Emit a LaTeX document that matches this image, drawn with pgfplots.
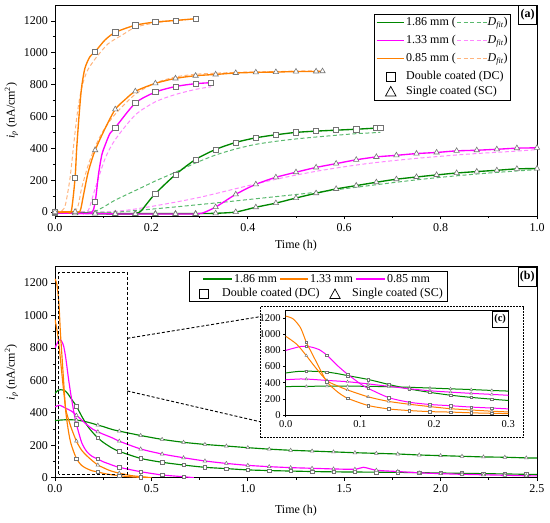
\documentclass[border=0pt]{standalone}
\usepackage{pgfplots}
\pgfplotsset{compat=1.18}
\usepackage{pgfplotstable}
\usepackage{fontspec}
\setmainfont{Liberation Serif}
\definecolor{cGr}{RGB}{0,135,0}
\definecolor{cGrD}{RGB}{90,185,110}
\definecolor{cMa}{RGB}{255,0,255}
\definecolor{cMaD}{RGB}{255,135,255}
\definecolor{cOr}{RGB}{255,128,0}
\definecolor{cOrD}{RGB}{255,180,125}
\definecolor{cMk}{RGB}{115,115,115}
\newcommand\fs{\fontsize{12}{14}\selectfont}
\newcommand\fsi{\fontsize{10.5}{12.5}\selectfont}
\pgfplotsset{
  mainmk/.style={restrict expr to domain={\thisrow{m}}{0.5:1.5}},
  insetmk/.style={restrict expr to domain={\thisrow{m}}{0.5:2.5}},
  base/.style={scale only axis, width=482pt, height=211pt, tick align=outside, tick pos=left,
    axis line style={line width=0.8pt}, major tick length=3.5pt, minor tick length=2pt,
    every tick/.style={black, line width=0.7pt},
    tick label style={font=\fs}, label style={font=\fs},
    /pgf/number format/assume math mode=true, /pgf/number format/1000 sep={}},
  sol/.style={line width=1.35pt, smooth, tension=0.45},
  das/.style={line width=1pt, smooth, tension=0.45, dash pattern=on 4pt off 2.5pt},
  msq/.style={only marks, mark=square*, mark size=2.6pt, mark options={solid, fill=white, draw=cMk, line width=0.6pt}},
  mtr/.style={only marks, mark=triangle*, mark size=3.1pt, mark options={solid, fill=white, draw=cMk, line width=0.6pt}},
  msqb/.style={only marks, mark=square*, mark size=1.7pt, mark options={solid, fill=white, draw=cMk, line width=0.5pt}},
  mtrb/.style={only marks, mark=triangle*, mark size=2.1pt, mark options={solid, fill=white, draw=cMk, line width=0.5pt}},
  msqc/.style={only marks, mark=square*, mark size=1.3pt, mark options={solid, fill=white, draw=cMk, line width=0.4pt}},
  mtrc/.style={only marks, mark=triangle*, mark size=1.6pt, mark options={solid, fill=white, draw=cMk, line width=0.4pt}},
}
% ---------------- panel (a) ----------------
\pgfplotstableread{
t v m
0 -5 1
0.06 -8 0
0.12 -12 0
0.165 -10 0
0.178 5 0
0.19 50 0
0.2083 116 1
0.25 235 1
0.2917 330 1
0.3333 393 1
0.375 437 1
0.4167 466 1
0.4583 485 1
0.5 500 1
0.5417 508 1
0.5833 514 1
0.625 520 1
0.6667 527 1
0.675 528 1
}\aGD
\pgfplotstableread{
t v
0 0
0.07 0
0.0833 5
0.1 30
0.125 75
0.1667 135
0.2083 195
0.25 250
0.2917 308
0.3333 358
0.375 396
0.4167 425
0.4583 444
0.5 459
0.5417 471
0.5833 482
0.625 492
0.675 500
}\aGDf
\pgfplotstableread{
t v m
0 -5 1
0.0417 -6 1
0.0833 -8 1
0.125 -9 1
0.1667 -10 1
0.2083 -10 1
0.25 -10 1
0.2917 -10 1
0.3333 -8 1
0.375 0 1
0.4167 30 1
0.4583 56 1
0.5 88 1
0.5417 118 1
0.5833 145 1
0.625 166 1
0.6667 187 1
0.7083 206 1
0.75 220 1
0.7917 233 1
0.8333 245 1
0.875 254 1
0.9167 262 1
0.9583 271 1
1.0 273 1
}\aGS
\pgfplotstableread{
t v
0 0
0.12 0
0.15 5
0.2 18
0.25 32
0.3 47
0.35 62
0.4 78
0.45 94
0.5 110
0.55 127
0.6 146
0.65 165
0.7 184
0.75 202
0.8 218
0.85 232
0.9 245
0.95 256
1.0 266
}\aGSf
\pgfplotstableread{
t v m
0 -5 1
0.04 -8 0
0.075 -5 0
0.0833 63 1
0.09 231 0
0.097 357 0
0.104 420 0
0.114 493 0
0.125 530 1
0.1667 684 1
0.2083 753 1
0.25 788 1
0.2917 806 1
0.324 812 1
}\aPD
\pgfplotstableread{
t v
0 0
0.055 0
0.069 10
0.0833 147
0.104 336
0.125 455
0.1667 610
0.2083 692
0.25 738
0.2917 770
0.324 787
}\aPDf
\pgfplotstableread{
t v m
0 -5 1
0.0417 -8 1
0.0833 -10 1
0.125 -12 1
0.1667 -12 1
0.2083 -12 1
0.25 -12 1
0.2917 -12 1
0.305 -8 0
0.3333 31 1
0.375 111 1
0.4167 174 1
0.4583 218 1
0.5 250 1
0.5417 280 1
0.5833 304 1
0.625 328 1
0.6667 346 1
0.7083 356 1
0.75 367 1
0.7917 374 1
0.8333 384 1
0.875 388 1
0.9167 394 1
0.9583 401 1
1.0 403 1
}\aPS
\pgfplotstableread{
t v
0 0
0.1 0
0.15 12
0.2 35
0.25 62
0.3 92
0.35 128
0.4 165
0.45 200
0.5 232
0.55 260
0.6 284
0.65 305
0.7 322
0.75 337
0.8 350
0.85 362
0.9 372
0.95 381
1.0 392
}\aPSf
\pgfplotstableread{
t v m
0 0 1
0.025 0 0
0.034 8 0
0.0417 216 1
0.045 399 0
0.05 608 0
0.055 778 0
0.062 902 0
0.0726 976 0
0.0833 1007 1
0.1037 1080 0
0.125 1128 1
0.1667 1173 1
0.2083 1193 1
0.25 1203 1
0.2917 1214 1
}\aOD
\pgfplotstableread{
t v
0 5
0.015 10
0.022 50
0.031 209
0.038 400
0.045 590
0.052 730
0.06 830
0.069 898
0.086 972
0.11 1056
0.138 1109
0.1667 1160
0.2083 1188
0.25 1202
0.2917 1212
}\aODf
\pgfplotstableread{
t v m
0 0 1
0.0417 2 1
0.052 5 0
0.059 105 0
0.069 252 0
0.0833 388 1
0.104 525 0
0.125 645 1
0.145 705 0
0.1667 758 1
0.2083 808 1
0.25 839 1
0.2917 856 1
0.3333 864 1
0.375 873 1
0.4167 877 1
0.4583 879 1
0.5 882 1
0.5417 883 1
0.555 884 1
}\aOS
\pgfplotstableread{
t v
0 0
0.038 0
0.048 40
0.055 147
0.069 296
0.0833 410
0.1 510
0.125 615
0.1667 740
0.2083 810
0.25 848
0.2917 865
0.3333 872
0.4 879
0.5 885
0.555 888
}\aOSf
% ---------------- panel (b) ----------------
\pgfplotstableread{
t v m
0 1225 0
0.01 1190 0
0.02 1080 0
0.0278 900 2
0.035 770 0
0.045 590 0
0.0556 410 2
0.07 285 0
0.0833 208 2
0.1111 118 1
0.1389 75 2
0.1667 55 2
0.1944 42 2
0.2222 36 1
0.25 27 2
0.2778 21 2
0.3 17 0
0.3333 12 1
0.4 5 0
0.4444 2 1
0.5 0 0
}\bOD
\pgfplotstableread{
t v m
0 975 0
0.015 875 0
0.0278 735 2
0.04 590 0
0.0556 425 2
0.07 360 0
0.0833 310 2
0.1111 225 1
0.1389 168 2
0.1667 133 2
0.1944 104 2
0.2222 78 1
0.25 62 2
0.2778 47 2
0.3 38 0
0.3333 28 1
0.4 12 0
0.4444 7 1
0.5 0 0
}\bOS
\pgfplotstableread{
t v m
0 800 0
0.01 825 0
0.02 848 0
0.0278 850 2
0.035 840 0
0.045 810 0
0.0556 740 2
0.07 610 0
0.0833 505 2
0.1 390 0
0.1111 330 1
0.1389 215 2
0.1667 158 2
0.1944 130 2
0.2222 115 1
0.25 98 2
0.2778 86 2
0.3 76 0
0.3333 64 1
0.4444 37 1
0.5556 17 1
0.6667 6 1
0.72 0 0
}\bPD
\pgfplotstableread{
t v m
0 437 0
0.02 446 0
0.0278 445 2
0.045 435 0
0.0556 428 2
0.0833 412 2
0.1111 385 1
0.1389 355 2
0.1667 325 2
0.1944 300 2
0.2222 283 1
0.25 268 2
0.2778 255 2
0.3 244 0
0.3333 225 1
0.4444 177 1
0.5556 146 1
0.6667 123 1
0.7778 103 1
0.8889 88 1
1.0 76 1
1.1111 68 1
1.2222 62 1
1.3333 58 1
1.4444 54 1
1.5556 52 1
1.6 64 0
1.6667 46 1
1.7778 38 1
1.8889 30 1
2.0 25 1
2.1111 21 1
2.2222 18 1
2.3333 15 1
2.4444 12 1
2.5 11 0
}\bPS
\pgfplotstableread{
t v m
0 520 0
0.015 538 0
0.0278 542 2
0.045 540 0
0.0556 532 2
0.07 512 0
0.0833 488 2
0.1111 440 1
0.1389 378 2
0.1667 322 2
0.1944 280 2
0.2222 245 1
0.25 218 2
0.2778 196 2
0.3 180 0
0.3333 162 1
0.4444 119 1
0.5556 95 1
0.6667 78 1
0.7778 64 1
0.8889 56 1
1.0 48 1
1.1111 44 1
1.2222 41 1
1.3333 38 1
1.4444 36 1
1.5556 35 1
1.6667 34 1
1.7778 33 1
1.8889 31 1
2.0 29 1
2.1111 27 1
2.2222 25 1
2.3333 23 1
2.4444 21 1
2.5 20 0
}\bGD
\pgfplotstableread{
t v m
0 352 0
0.0278 355 2
0.0556 357 2
0.0833 357 2
0.1111 355 1
0.1389 350 2
0.1667 343 2
0.1944 334 2
0.2222 324 1
0.25 315 2
0.2778 304 2
0.3 296 0
0.3333 287 1
0.4444 260 1
0.5556 236 1
0.6667 218 1
0.7778 205 1
0.8889 195 1
1.0 185 1
1.1111 176 1
1.2222 169 1
1.3333 164 1
1.4444 159 1
1.5556 154 1
1.6667 150 1
1.7778 146 1
1.8889 140 1
2.0 136 1
2.1111 132 1
2.2222 128 1
2.3333 126 1
2.4444 122 1
2.5 121 0
}\bGS
\begin{document}
\begin{tikzpicture}
\path[use as bounding box] (0pt,0pt) rectangle (550pt,523pt);
% ================= (a) =================
\begin{axis}[base, at={(55pt,307pt)}, anchor=south west,
  xmin=0, xmax=1, ymin=-25, ymax=1300,
  xtick={0,0.2,0.4,0.6,0.8,1.0}, ytick={0,200,...,1200},
  minor x tick num=1, minor y tick num=1,
  xticklabel style={/pgf/number format/.cd, fixed, fixed zerofill, precision=1},
  xlabel={Time (h)},
  ylabel={\textit{i}\textsubscript{\textit{p}} (nA/cm\textsuperscript{2})},
  xlabel style={yshift=-2pt}, ylabel style={yshift=-1pt}]
\addplot[das, cGrD] table[x=t,y=v] \aGDf;
\addplot[das, cGrD] table[x=t,y=v] \aGSf;
\addplot[das, cMaD] table[x=t,y=v] \aPDf;
\addplot[das, cMaD] table[x=t,y=v] \aPSf;
\addplot[das, cOrD] table[x=t,y=v] \aODf;
\addplot[das, cOrD] table[x=t,y=v] \aOSf;
\addplot[sol, cGr] table[x=t,y=v] \aGD;
\addplot[sol, cGr] table[x=t,y=v] \aGS;
\addplot[sol, cMa] table[x=t,y=v] \aPD;
\addplot[sol, cMa] table[x=t,y=v] \aPS;
\addplot[sol, cOr] table[x=t,y=v] \aOD;
\addplot[sol, cOr] table[x=t,y=v] \aOS;
\addplot[msq, mainmk] table[x=t,y=v] \aGD;
\addplot[mtr, mainmk] table[x=t,y=v] \aGS;
\addplot[msq, mainmk] table[x=t,y=v] \aPD;
\addplot[mtr, mainmk] table[x=t,y=v] \aPS;
\addplot[msq, mainmk] table[x=t,y=v] \aOD;
\addplot[mtr, mainmk] table[x=t,y=v] \aOS;
\end{axis}
% legend (a)
\draw[line width=0.7pt, fill=white] (374.3pt,423pt) rectangle (510pt,509pt);
\draw[cGr, line width=1.3pt] (376.5pt,500.5pt) -- (404pt,500.5pt);
\draw[cMa, line width=1.3pt] (376.5pt,482.5pt) -- (404pt,482.5pt);
\draw[cOr, line width=1.3pt] (376.5pt,464.5pt) -- (404pt,464.5pt);
\draw[cGrD, line width=1pt, dash pattern=on 4pt off 2.5pt] (457pt,500.5pt) -- (487pt,500.5pt);
\draw[cMaD, line width=1pt, dash pattern=on 4pt off 2.5pt] (457pt,482.5pt) -- (487pt,482.5pt);
\draw[cOrD, line width=1pt, dash pattern=on 4pt off 2.5pt] (457pt,464.5pt) -- (487pt,464.5pt);
\node[font=\fs, anchor=west, inner sep=0pt] at (406pt,500.5pt) {1.86 mm (};
\node[font=\fs, anchor=west, inner sep=0pt] at (406pt,482.5pt) {1.33 mm (};
\node[font=\fs, anchor=west, inner sep=0pt] at (406pt,464.5pt) {0.85 mm (};
\node[font=\fs, anchor=west, inner sep=0pt] at (487.5pt,500pt) {\textit{D}\textsubscript{\textit{fit}})};
\node[font=\fs, anchor=west, inner sep=0pt] at (487.5pt,482pt) {\textit{D}\textsubscript{\textit{fit}})};
\node[font=\fs, anchor=west, inner sep=0pt] at (487.5pt,464pt) {\textit{D}\textsubscript{\textit{fit}})};
\draw[line width=0.7pt] (386.5pt,442pt) rectangle (395pt,450.5pt);
\draw[line width=0.7pt] (385.5pt,427pt) -- (396pt,427pt) -- (390.75pt,436.5pt) -- cycle;
\node[font=\fs, anchor=west, inner sep=0pt] at (406pt,446pt) {Double coated (DC)};
\node[font=\fs, anchor=west, inner sep=0pt] at (406pt,431pt) {Single coated (SC)};
\node[draw, line width=0.7pt, fill=white, font=\fs\bfseries, inner sep=2pt, anchor=north east, minimum height=19pt] at (537pt,518pt) {(a)};
% ================= (b) =================
\begin{axis}[base, at={(55pt,45.3pt)}, anchor=south west,
  xmin=0, xmax=2.5, ymin=0, ymax=1300,
  xtick={0,0.5,...,2.5}, ytick={0,200,...,1200},
  minor x tick num=1, minor y tick num=1,
  xticklabel style={/pgf/number format/.cd, fixed, fixed zerofill, precision=1},
  xlabel={Time (h)},
  ylabel={\textit{i}\textsubscript{\textit{p}} (nA/cm\textsuperscript{2})},
  xlabel style={yshift=-5pt}, ylabel style={yshift=-1pt}]
\addplot[sol, cGr, line width=1.15pt] table[x=t,y=v] \bGS;
\addplot[sol, cGr, line width=1.15pt] table[x=t,y=v] \bGD;
\addplot[sol, cMa, line width=1.15pt] table[x=t,y=v] \bPS;
\addplot[sol, cMa, line width=1.15pt] table[x=t,y=v] \bPD;
\addplot[sol, cOr, line width=1.15pt] table[x=t,y=v] \bOS;
\addplot[sol, cOr, line width=1.15pt] table[x=t,y=v] \bOD;
\addplot[mtrb, mainmk] table[x=t,y=v] \bGS;
\addplot[msqb, mainmk] table[x=t,y=v] \bGD;
\addplot[mtrb, mainmk] table[x=t,y=v] \bPS;
\addplot[msqb, mainmk] table[x=t,y=v] \bPD;
\addplot[mtrb, mainmk] table[x=t,y=v] \bOS;
\addplot[msqb, mainmk] table[x=t,y=v] \bOD;
\draw[line width=0.9pt, dash pattern=on 3pt off 2pt] (axis cs:0.02,20) rectangle (axis cs:0.375,1265);
\end{axis}
\draw[line width=0.9pt, dash pattern=on 3pt off 2pt] (127.3pt,184.7pt) -- (260pt,206.3pt);
\draw[line width=0.9pt, dash pattern=on 3pt off 2pt] (127.3pt,132pt) -- (260pt,101.3pt);
% legend (b)
\draw[line width=0.7pt, fill=white] (189pt,222pt) rectangle (447pt,252pt);
\draw[cGr, line width=1.1pt] (203pt,244pt) -- (232pt,244pt);
\draw[cOr, line width=1.1pt] (280pt,244pt) -- (308pt,244pt);
\draw[cMa, line width=1.1pt] (356pt,244pt) -- (385pt,244pt);
\node[font=\fs, anchor=west, inner sep=0pt] at (234pt,244pt) {1.86 mm};
\node[font=\fs, anchor=west, inner sep=0pt] at (310pt,244pt) {1.33 mm};
\node[font=\fs, anchor=west, inner sep=0pt] at (387pt,244pt) {0.85 mm};
\draw[line width=0.7pt] (199.8pt,224.8pt) rectangle (208.2pt,233.2pt);
\draw[line width=0.7pt] (329.8pt,224.5pt) -- (340.2pt,224.5pt) -- (335pt,234pt) -- cycle;
\node[font=\fs, anchor=west, inner sep=0pt] at (222pt,229pt) {Double coated (DC)};
\node[font=\fs, anchor=west, inner sep=0pt] at (352pt,229pt) {Single coated (SC)};
\node[draw, line width=0.7pt, fill=white, font=\fs\bfseries, inner sep=2pt, anchor=north east, minimum height=19pt] at (537pt,256pt) {(b)};
% ================= (c) inset =================
\draw[line width=0.7pt, dash pattern=on 1.5pt off 1.5pt, fill=white] (260pt,85.3pt) rectangle (523.3pt,216.3pt);
\begin{axis}[scale only axis, width=222.6pt, height=105pt, at={(285.7pt,108pt)}, anchor=south west,
  xmin=0, xmax=0.3, ymin=0, ymax=1300,
  xtick={0,0.1,0.2,0.3}, ytick={0,200,...,1200},
  tick align=outside, tick pos=left, major tick length=2.5pt,
  axis line style={line width=0.7pt}, every tick/.style={black, line width=0.6pt},
  tick label style={font=\fsi},
  xticklabel style={yshift=1pt, /pgf/number format/.cd, fixed, fixed zerofill, precision=1},
  yticklabel style={xshift=1pt},
  /pgf/number format/assume math mode=true, /pgf/number format/1000 sep={},
  axis background/.style={fill=white}]
\addplot[sol, cGr, line width=1pt] table[x=t,y=v] \bGS;
\addplot[sol, cGr, line width=1pt] table[x=t,y=v] \bGD;
\addplot[sol, cMa, line width=1pt] table[x=t,y=v] \bPS;
\addplot[sol, cMa, line width=1pt] table[x=t,y=v] \bPD;
\addplot[sol, cOr, line width=1pt] table[x=t,y=v] \bOS;
\addplot[sol, cOr, line width=1pt] table[x=t,y=v] \bOD;
\addplot[mtrc, insetmk] table[x=t,y=v] \bGS;
\addplot[msqc, insetmk] table[x=t,y=v] \bGD;
\addplot[mtrc, insetmk] table[x=t,y=v] \bPS;
\addplot[msqc, insetmk] table[x=t,y=v] \bPD;
\addplot[mtrc, insetmk] table[x=t,y=v] \bOS;
\addplot[msqc, insetmk] table[x=t,y=v] \bOD;
\end{axis}
\node[draw, line width=0.7pt, fill=white, font=\fsi\bfseries, inner sep=2pt, anchor=north east, minimum height=16pt] at (508.3pt,212pt) {(c)};
\end{tikzpicture}
\end{document}
